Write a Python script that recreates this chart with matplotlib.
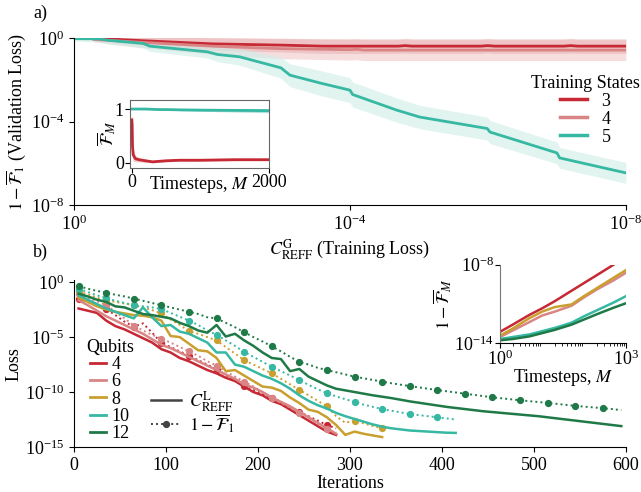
import numpy as np
import matplotlib
matplotlib.use("Agg")
import matplotlib.pyplot as plt
from matplotlib.lines import Line2D
from matplotlib import ticker

plt.rcParams['font.family'] = ['Liberation Serif', 'DejaVu Serif']
plt.rcParams['mathtext.fontset'] = 'stix'
plt.rcParams['font.size'] = 13

# colours
c_red = '#c62834'
c_pink = '#d98585'
c_gold = '#c9a030'
c_teal = '#36b8a3'
c_green = '#1f7a48'

# ---------------- panel a) data (log10 values) ----------------
a5_logx = [0, -0.35, -0.5, -1.0, -1.1, -1.93, -2.08, -2.4, -3.0, -3.13, -3.57, -4.0, -4.04,
           -4.68, -5.01, -5.99, -6.03, -7.0, -7.04, -8.0]
a5_logy = [-0.02, -0.03, -0.1, -0.25, -0.38, -0.65, -0.78, -0.89, -1.42, -1.77, -2.15, -2.49, -2.7,
           -3.45, -3.78, -4.33, -4.5, -5.5, -5.74, -6.46]
a5_spread = [0.12, 0.15, 0.18, 0.22, 0.25, 0.3, 0.35, 0.4, 0.5, 0.55, 0.6, 0.6, 0.6,
             0.58, 0.56, 0.55, 0.55, 0.52, 0.5, 0.5]

a3_logx = [-0.29, -1.0, -2.0, -3.0, -3.6, -4.7, -4.8, -4.9, -5.9, -6.0, -6.1, -7.1, -7.2, -7.3, -8.0]
a3_logy = [0.0, -0.12, -0.27, -0.33, -0.38, -0.38, -0.355, -0.38, -0.38, -0.355, -0.38, -0.38, -0.355, -0.38, -0.38]
a3_spread = [0.1, 0.2, 0.3, 0.33, 0.35, 0.35, 0.35, 0.35, 0.35, 0.35, 0.35, 0.35, 0.35, 0.35, 0.35]

a4_logx = [-0.29, -1.0, -2.0, -3.0, -4.0, -4.1, -4.2, -8.0]
a4_logy = [-0.06, -0.2, -0.38, -0.5, -0.55, -0.53, -0.57, -0.57]
a4_spread = [0.12, 0.25, 0.4, 0.48, 0.5, 0.5, 0.5, 0.5]

# inset a): fidelity vs timesteps
ia_M = [0, 5, 10, 20, 50, 100, 200, 300, 400, 500, 700, 1000, 1500, 2000]
ia_red = [0.8, 0.7, 0.3, 0.15, 0.08, 0.06, 0.04, 0.02, 0.03, 0.04, 0.05, 0.05, 0.06, 0.06]
ia_red_sd = [0.05, 0.2, 0.2, 0.12, 0.06, 0.04, 0.03, 0.02, 0.02, 0.02, 0.02, 0.02, 0.02, 0.02]
ia_teal = [1.0, 1.0, 1.0, 1.0, 1.0, 1.0, 1.0, 0.995, 0.99, 0.99, 0.985, 0.98, 0.975, 0.97]
ia_teal_sd = [0.003, 0.003, 0.003, 0.003, 0.004, 0.005, 0.006, 0.008, 0.01, 0.012, 0.016, 0.022, 0.03, 0.038]

# ---------------- panel b) data (log10 loss) ----------------
qubits = ['4', '6', '8', '10', '12']
colors_b = [c_red, c_pink, c_gold, c_teal, c_green]

cost = {
    '4': [-2.4, -2.6, -2.8, -3.5, -4.0, -4.3, -4.7, -5.1, -5.5, -6.1, -6.4, -6.9, -7.2, -7.6, -8.0,
          -8.3, -8.7, -9.0, -9.5, -10.0, -10.3, -10.8, -11.1, -11.6, -12.1, -12.6, -13.1, -13.6, -13.9],
    '6': [-1.65, -2.1, -2.6, -3.1, -3.5, -3.9, -4.3, -4.7, -5.2, -5.7, -6.0, -6.4, -6.8, -7.2, -7.6,
          -8.0, -8.4, -8.8, -9.3, -9.6, -10.0, -10.5, -10.9, -11.3, -11.8, -12.3, -12.8, -13.3, -13.8],
    '8': [-1.4, -1.8, -2.2, -2.5, -2.7, -2.85, -3.0, -3.05, -3.2, -3.5, -4.9, -5.0, -5.6, -6.2, -6.3,
          -6.9, -8.1, -8.0, -8.5, -9.0, -9.5, -9.6, -9.9, -10.5, -11.0, -11.6, -11.8, -12.3, -13.0,
          -13.9, -13.6, -13.8, -13.95, -14.1],
    '10': [-1.2, -1.6, -2.0, -2.4, -2.7, -3.0, -3.3, -2.3, -3.2, -4.0, -3.9, -4.5, -4.7, -5.1, -5.5,
           -6.4, -6.4, -7.5, -7.7, -8.1, -8.5, -8.8, -9.2, -9.7, -10.3, -10.8, -11.2, -11.5, -11.9,
           -12.2, -12.45, -12.7, -12.95, -13.15, -13.3, -13.4, -13.5, -13.55, -13.6, -13.65, -13.7, -13.72],
    '12': [-1.05, -1.3, -1.6, -1.8, -2.2, -2.3, -2.6, -2.9, -3.0, -3.15, -3.3, -3.7, -4.0, -4.4, -4.6,
           -3.9, -4.95, -4.7, -5.3, -5.8, -6.4, -6.9, -7.0, -8.1, -7.9, -8.6, -9.0, -9.4, -9.7],
}
green_tail_it = [295, 305, 325, 345, 365, 385, 405, 425, 445, 465, 485, 505, 525, 545, 565, 595]
green_tail = [-9.85, -10.0, -10.3, -10.55, -10.85, -11.1, -11.35, -11.55, -11.75, -11.9, -12.05,
              -12.2, -12.4, -12.6, -12.8, -13.1]

infid = {
    '4': [-1.5, -1.8, -2.1, -2.45, -3.0, -3.6, -4.05, -3.75, -4.6, -5.55, -5.9, -6.3, -6.7, -7.1, -7.5,
          -7.95, -8.45, -8.95, -9.45, -9.8, -10.15, -10.5, -10.9, -11.35, -11.8, -12.2, -12.6, -13.0, -13.3],
    '6': [-1.05, -1.4, -1.75, -2.1, -2.7, -3.3, -3.95, -4.4, -4.8, -5.15, -5.5, -5.9, -6.3, -6.7, -7.2,
          -7.6, -8.1, -8.6, -9.05, -9.5, -10.0, -10.5, -11.0, -11.4, -11.9, -12.4, -12.9, -13.4, -13.7],
    '8': [-0.84, -1.1, -1.4, -1.65, -1.8, -1.95, -2.1, -2.3, -2.55, -2.85, -3.4, -3.9, -4.45, -4.7, -5.0,
          -5.3, -5.9, -6.5, -7.1, -7.5, -7.9, -8.3, -8.8, -9.3, -9.8, -10.3, -10.8, -11.3, -12.2, -12.8,
          -12.6, -12.85, -13.1, -13.3],
    '10': [-0.6, -0.9, -1.2, -1.44, -1.7, -1.9, -2.1, -2.2, -2.3, -2.45, -2.8, -3.15, -3.5, -3.9, -4.4,
           -4.8, -5.3, -5.8, -6.35, -6.8, -7.25, -7.7, -8.1, -8.5, -8.9, -9.35, -9.75, -10.1, -10.4,
           -10.65, -10.9, -11.15, -11.35, -11.55, -11.7, -11.85, -12.0, -12.1, -12.2, -12.3, -12.4, -12.5],
    '12': [-0.36, -0.6, -0.8, -0.96, -1.15, -1.3, -1.5, -1.7, -1.9, -2.1, -2.3, -2.5, -2.7, -2.9, -3.2,
           -3.3, -3.7, -4.1, -4.55, -5.0, -5.4, -5.84, -6.3, -6.8, -7.25, -7.5, -7.8, -8.0, -8.2, -8.4,
           -8.6, -8.75, -8.9, -9.05, -9.2, -9.33, -9.46, -9.58, -9.7, -9.82, -9.93, -10.04, -10.15,
           -10.26, -10.37, -10.48, -10.57, -10.66, -10.75, -10.83, -10.91, -10.99, -11.08, -11.17,
           -11.26, -11.33, -11.4, -11.47, -11.55, -11.65],
}

# inset b): 1 - F_M vs timesteps
ib_M = [1, 2, 5, 10, 20, 50, 100, 200, 500, 1000]
ib = {
    '4': [-13.15, -12.6, -11.85, -11.35, -10.8, -10.0, -9.4, -8.8, -8.0, -7.4],
    '6': [-13.55, -13.05, -12.4, -11.9, -11.6, -11.15, -10.5, -9.9, -9.2, -8.6],
    '8': [-13.45, -12.9, -12.1, -11.6, -11.25, -11.05, -10.4, -9.8, -9.0, -8.4],
    '10': [-13.7, -13.55, -13.35, -13.1, -12.85, -12.45, -11.95, -11.5, -10.9, -10.4],
    '12': [-13.8, -13.7, -13.5, -13.25, -13.0, -12.6, -12.2, -11.8, -11.3, -10.95],
}

fig = plt.figure(figsize=(6.41, 4.92), dpi=100)

# ================= panel a =================
ax1 = fig.add_axes([0.1154, 0.5833, 0.861, 0.339])
for lx, ly, sp, bandcol in [(a4_logx, a4_logy, a4_spread, '#f0c8c8'),
                            (a3_logx, a3_logy, a3_spread, '#eab4b6'),
                            (a5_logx, a5_logy, a5_spread, '#cdeee7')]:
    x = 10.0 ** np.array(lx)
    y = np.array(ly)
    s = np.array(sp)
    ax1.fill_between(x, 10 ** (y - s), 10 ** (y + s), color=bandcol, alpha=0.6, lw=0)
for lx, ly, col, lab in [(a3_logx, a3_logy, c_red, '3'),
                         (a4_logx, a4_logy, c_pink, '4'),
                         (a5_logx, a5_logy, c_teal, '5')]:
    ax1.plot(10.0 ** np.array(lx), 10.0 ** np.array(ly), color=col, lw=2, label=lab)
ax1.set_xscale('log')
ax1.set_yscale('log')
ax1.set_xlim(1, 1e-8)
ax1.set_ylim(1e-8, 1)
ax1.set_xticks([1, 1e-4, 1e-8])
ax1.set_yticks([1, 1e-4, 1e-8])
ax1.xaxis.set_minor_locator(ticker.NullLocator())
ax1.yaxis.set_minor_locator(ticker.NullLocator())
for s in ['top', 'right']:
    ax1.spines[s].set_visible(False)
ax1.set_xlabel(r'$C^{\mathrm{G}}_{\mathrm{REFF}}$ (Training Loss)', labelpad=2)
ax1.set_ylabel(r'$1-\overline{\mathcal{F}}_1$ (Validation Loss)', labelpad=2)
leg1 = ax1.legend(title='Training States', frameon=False, loc='center',
                  bbox_to_anchor=(0.913, 0.776), bbox_transform=fig.transFigure,
                  handlelength=1.5, labelspacing=0.05, borderpad=0, handletextpad=0.8)
for l in leg1.get_lines():
    l.set_linewidth(2.5)

# inset a
axi1 = fig.add_axes([0.203, 0.659, 0.217, 0.138])
axi1.fill_between(ia_M, np.array(ia_teal) - np.array(ia_teal_sd),
                  np.array(ia_teal) + np.array(ia_teal_sd), color=c_teal, alpha=0.4, lw=0)
axi1.fill_between(ia_M, np.array(ia_red) - np.array(ia_red_sd),
                  np.array(ia_red) + np.array(ia_red_sd), color=c_red, alpha=0.25, lw=0)
axi1.plot(ia_M, ia_teal, color=c_teal, lw=2)
axi1.plot(ia_M, ia_red, color=c_red, lw=2)
axi1.set_xlim(-25, 2000)
axi1.set_ylim(-0.09, 1.17)
axi1.set_xticks([0, 2000])
axi1.set_yticks([0, 1])
for s in axi1.spines.values():
    s.set_color('#666666')
axi1.tick_params(pad=1)
axi1.set_xlabel(r'Timesteps, $M$', labelpad=-12)
axi1.set_ylabel(r'$\overline{\mathcal{F}}_M$', labelpad=-2)

# ================= panel b =================
ax2 = fig.add_axes([0.1154, 0.0915, 0.861, 0.339])
for q, col in zip(qubits, colors_b):
    it = 5 + 10 * np.arange(len(cost[q]))
    vals = list(cost[q])
    its = list(it)
    if q == '12':
        its += green_tail_it
        vals += green_tail
    ax2.plot(its, 10.0 ** np.array(vals), color=col, lw=1.8)
    it2 = 5 + 10 * np.arange(len(infid[q]))
    ax2.plot(it2, 10.0 ** np.array(infid[q]), color=col, lw=1.4, ls=(0, (1, 1.6)),
             marker='o', ms=4.2, markevery=slice(0, None, 3))
ax2.set_yscale('log')
ax2.set_xlim(0, 600)
ax2.set_ylim(1e-15, 1.5)
ax2.set_yticks([1, 1e-5, 1e-10, 1e-15])
ax2.yaxis.set_minor_locator(ticker.NullLocator())
for s in ['top', 'right']:
    ax2.spines[s].set_visible(False)
ax2.set_xlabel('Iterations', labelpad=1)
ax2.set_ylabel('Loss', labelpad=2)

qh = [Line2D([], [], color=c, lw=2) for c in colors_b]
leg2 = ax2.legend(qh, qubits, title='Qubits', frameon=False, loc='upper left',
                  bbox_to_anchor=(0.12, 0.33), bbox_transform=fig.transFigure,
                  handlelength=0.9, labelspacing=0.02, borderpad=0, handletextpad=0.3)
ax2.add_artist(leg2)
sh = [Line2D([], [], color='#444444', lw=1.8),
      Line2D([], [], color='#444444', lw=1.4, ls=(0, (1, 1.6)), marker='o', ms=4.2, markevery=[1])]
ax2.legend(sh, [r'$C^{\mathrm{L}}_{\mathrm{REFF}}$', r'$1-\overline{\mathcal{F}}_1$'],
           frameon=False, loc='upper left', bbox_to_anchor=(0.221, 0.228),
           bbox_transform=fig.transFigure, handlelength=1.7, labelspacing=-0.1,
           borderpad=0, handletextpad=0.4)

# inset b
axi2 = fig.add_axes([0.780, 0.303, 0.197, 0.159])
for q, col in zip(qubits, colors_b):
    axi2.plot(ib_M, 10.0 ** np.array(ib[q]), color=col, lw=1.8)
axi2.set_xscale('log')
axi2.set_yscale('log')
axi2.set_xlim(1, 1000)
axi2.set_ylim(1e-14, 1e-8)
axi2.set_xticks([1, 1000])
axi2.set_yticks([1e-14, 1e-8])
axi2.yaxis.set_minor_locator(ticker.NullLocator())
for s in ['top', 'right']:
    axi2.spines[s].set_visible(False)
axi2.spines['left'].set_color('#777777')
axi2.tick_params(pad=1)
axi2.set_xlabel(r'Timesteps, $M$', labelpad=-1)
axi2.set_ylabel(r'$1-\overline{\mathcal{F}}_M$', labelpad=0)

fig.text(0.052, 0.972, 'a)', fontsize=13, va='center')
fig.text(0.052, 0.488, 'b)', fontsize=13, va='center')

fig.savefig('out.png', dpi=100)
